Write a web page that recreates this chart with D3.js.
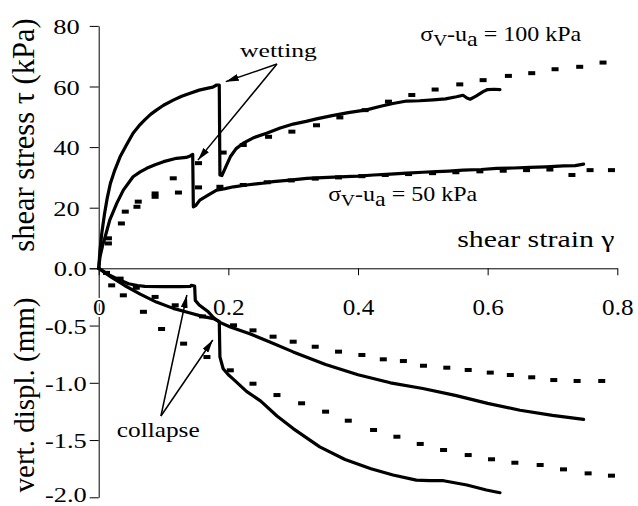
<!DOCTYPE html>
<html>
<head>
<meta charset="utf-8">
<script src="https://cdn.jsdelivr.net/npm/d3@7"></script>
<style>
  html, body { margin: 0; padding: 0; background: #fff; }
  svg { display: block; }
  text { font-family: "Liberation Serif", "Times New Roman", serif; fill: #000; }
</style>
</head>
<body>
<script>
// ---- Measured shear stress, sigma_v - u_a = 100 kPa (wetted at peak) ----
const strainTau100 = [0, 0.002, 0.005, 0.009, 0.013, 0.018, 0.025, 0.033, 0.043, 0.053, 0.062, 0.071, 0.08, 0.089, 0.1, 0.115, 0.128, 0.141, 0.155, 0.167, 0.176, 0.182, 0.186,
  0.187, 0.19, 0.195, 0.203, 0.212, 0.223, 0.24, 0.259, 0.28, 0.3, 0.32, 0.336, 0.36, 0.385, 0.413, 0.435, 0.454, 0.475, 0.495, 0.516, 0.535, 0.552, 0.562, 0.568, 0.573, 0.582, 0.593, 0.6, 0.61, 0.619];
const tau100 = [0, 6, 12, 18, 23, 28, 32.5, 36.8, 40.8, 44.6, 47, 49, 50.8, 52.2, 53.8, 55.5, 56.8, 57.8, 58.8, 59.4, 59.8, 60.5, 60.5,
  30.8, 30.6, 33, 36.8, 39.5, 41.3, 43.2, 44.6, 46.3, 47.6, 48.5, 49.3, 50.4, 51.4, 52.3, 53.5, 54.4, 55.2, 55.3, 55.6, 55.9, 56.6, 57.1, 56.2, 55.8, 56.8, 58.3, 59, 59.1, 59];

// ---- Measured shear stress, sigma_v - u_a = 50 kPa ----
const strainTau50 = [0, 0.002, 0.006, 0.01, 0.017, 0.028, 0.038, 0.053, 0.064, 0.074, 0.087, 0.1, 0.12, 0.135, 0.141, 0.145,
  0.146, 0.15, 0.156, 0.17, 0.182, 0.195, 0.208, 0.228, 0.25, 0.269, 0.295, 0.321, 0.345, 0.372, 0.4, 0.424, 0.45, 0.475, 0.5, 0.521, 0.54, 0.562, 0.59, 0.614, 0.64, 0.665, 0.69, 0.717, 0.735, 0.748];
const tau50 = [0, 3.8, 7.5, 10.4, 15.9, 21.5, 25.8, 30.2, 31.8, 33, 34.2, 35.2, 36.3, 36.6, 37.1, 37.6,
  20.3, 20.8, 22.5, 24.3, 25.8, 26.3, 26.9, 27.5, 28, 28.6, 29.1, 29.7, 29.9, 30.2, 30.4, 30.8, 31.1, 31.4, 31.7, 31.9, 32.1, 32.4, 32.6, 33, 33.1, 33.3, 33.5, 33.8, 33.9, 34.4];

// ---- Predicted shear stress (drawn as dash markers) ----
const predStrainTau100 = [0.015, 0.041, 0.061, 0.087, 0.115, 0.154, 0.192, 0.223, 0.262, 0.298, 0.336, 0.372, 0.411, 0.447, 0.483, 0.519, 0.557, 0.593, 0.632, 0.668, 0.704, 0.742, 0.778];
const predTau100 = [9.9, 18.7, 22, 24.7, 29.7, 34.7, 38.2, 40.7, 43.4, 45.1, 47.2, 49.8, 52.2, 55, 57.2, 59, 60.7, 62.1, 63.5, 64.4, 65.7, 66.5, 67.9];
const predStrainTau50 = [0.015, 0.035, 0.059, 0.087, 0.123, 0.154, 0.187, 0.223, 0.26, 0.297, 0.334, 0.37, 0.406, 0.442, 0.478, 0.515, 0.551, 0.588, 0.624, 0.66, 0.696, 0.73, 0.758, 0.791];
const predTau50 = [8.2, 14.8, 20.3, 23.6, 25, 26.7, 26.9, 27.5, 28.4, 29, 29.6, 30, 30.4, 30.8, 31.1, 31.4, 31.7, 32, 32.2, 32.4, 32.6, 30.8, 32.4, 32.4];

// ---- Measured vertical displacement (mm) ----
const strainDv50 = [0, 0.01, 0.017, 0.028, 0.046, 0.06, 0.071, 0.1, 0.125, 0.141, 0.143, 0.148, 0.149, 0.155, 0.169, 0.177, 0.186, 0.203, 0.233, 0.264, 0.3, 0.35, 0.4, 0.45, 0.5, 0.55, 0.6, 0.65, 0.7, 0.748];
const dv50 = [0, -0.035, -0.06, -0.09, -0.135, -0.15, -0.158, -0.16, -0.16, -0.158, -0.149, -0.155, -0.28, -0.32, -0.38, -0.43, -0.47, -0.513, -0.571, -0.644, -0.73, -0.84, -0.93, -1.0, -1.05, -1.11, -1.18, -1.24, -1.285, -1.32];
const strainDv100 = [0, 0.01, 0.02, 0.04, 0.064, 0.089, 0.115, 0.141, 0.16, 0.177, 0.186, 0.187, 0.192, 0.2, 0.208, 0.228, 0.25, 0.275, 0.3, 0.341, 0.38, 0.42, 0.454, 0.49, 0.51, 0.532, 0.568, 0.598, 0.619];
const dv100 = [0, -0.04, -0.08, -0.15, -0.225, -0.295, -0.35, -0.39, -0.42, -0.44, -0.465, -0.774, -0.877, -0.93, -0.97, -1.075, -1.16, -1.29, -1.4, -1.56, -1.67, -1.75, -1.805, -1.85, -1.855, -1.855, -1.893, -1.936, -1.96];

// ---- Predicted vertical displacement (dash markers) ----
const predStrainDv50 = [0.012, 0.033, 0.058, 0.087, 0.118, 0.16, 0.208, 0.238, 0.269, 0.3, 0.334, 0.37, 0.406, 0.439, 0.47, 0.501, 0.537, 0.57, 0.604, 0.635, 0.668, 0.702, 0.738, 0.776];
const predDv50 = [-0.04, -0.09, -0.17, -0.25, -0.323, -0.42, -0.498, -0.542, -0.597, -0.641, -0.685, -0.728, -0.757, -0.795, -0.81, -0.851, -0.868, -0.888, -0.911, -0.932, -0.952, -0.976, -0.984, -0.984];
const predStrainDv100 = [0.02, 0.038, 0.069, 0.097, 0.131, 0.167, 0.203, 0.238, 0.275, 0.313, 0.35, 0.385, 0.424, 0.46, 0.496, 0.532, 0.57, 0.606, 0.642, 0.681, 0.717, 0.755, 0.791];
const predDv100 = [-0.149, -0.236, -0.38, -0.53, -0.658, -0.775, -0.891, -1.008, -1.107, -1.179, -1.252, -1.331, -1.412, -1.471, -1.534, -1.587, -1.631, -1.668, -1.698, -1.718, -1.756, -1.791, -1.811];

// ---- Axis ticks ----
const strainTicks = [0, 0.2, 0.4, 0.6, 0.8];
const tauTicks = [0, 20, 40, 60, 80];
const dvTicks = [0, -0.5, -1.0, -1.5, -2.0];

// ---- Chart ----
const W = 638, H = 506;
const svg = d3.select("body").append("svg").attr("width", W).attr("height", H);

const x = d3.scaleLinear().domain([0, 0.8]).range([98.7, 617.3]);
const yTau = d3.scaleLinear().domain([0, 80]).range([268.3, 25.9]);
const yDv = d3.scaleLinear().domain([-2, 0]).range([497.3, 268.3]);

const zip = (xs, ys) => xs.map((v, i) => [v, ys[i]]);

// arrowhead for the annotation pointers
svg.append("defs").append("marker")
  .attr("id", "arrowhead").attr("viewBox", "0 0 13 7")
  .attr("refX", 13).attr("refY", 3.5)
  .attr("markerWidth", 13).attr("markerHeight", 7)
  .attr("markerUnits", "userSpaceOnUse").attr("orient", "auto")
  .append("path").attr("d", "M0,0L13,3.5L0,7Z").attr("fill", "#000");

// horizontally widened text helper
function label(g, px, py, size, sx) {
  return g.append("text")
    .attr("transform", `translate(${px},${py}) scale(${sx},1)`)
    .style("font-size", size + "px");
}

// --- shear-stress axis (upper) ---
const axTau = svg.append("g").attr("transform", `translate(${x(0)},0)`)
  .call(d3.axisLeft(yTau).tickValues(tauTicks).tickSize(9).tickSizeOuter(0));
axTau.selectAll("text").remove();
axTau.selectAll(".tick").each(function (d) {
  if (d === 0) return;
  label(d3.select(this), -19, 7.5, 22, 1.2).attr("text-anchor", "end").text(d3.format("d")(d));
});

// --- vertical-displacement axis (lower) ---
const axDv = svg.append("g").attr("transform", `translate(${x(0)},0)`)
  .call(d3.axisLeft(yDv).tickValues(dvTicks).tickSize(9).tickSizeOuter(0));
axDv.selectAll("text").remove();
axDv.selectAll(".tick").each(function (d) {
  // keep the lowest label inside the drawing area
  const off = Math.min(7.5, H - 5 - yDv(d));
  label(d3.select(this), -12, off, 22, 1.2).attr("text-anchor", "end").text(d.toFixed(1));
});

// --- shear-strain axis along zero ---
const axX = svg.append("g").attr("transform", `translate(0,${yTau(0)})`)
  .call(d3.axisBottom(x).tickValues(strainTicks).tickSize(7).tickSizeOuter(0));
axX.selectAll("text").remove();
axX.selectAll(".tick").each(function (d) {
  label(d3.select(this), 0, 47, 24, 1.05)
    .attr("text-anchor", "middle")
    .attr("stroke", "#fff").attr("stroke-width", 4).attr("paint-order", "stroke")
    .text(d === 0 ? "0" : d.toFixed(1));
});

svg.selectAll(".domain, .tick line").attr("stroke", "#000").attr("stroke-width", 1);

// --- measured curves ---
const lineTau = d3.line().x(d => x(d[0])).y(d => yTau(d[1]));
const lineDv = d3.line().x(d => x(d[0])).y(d => yDv(d[1]));

const curves = svg.append("g").attr("fill", "none").attr("stroke", "#000")
  .attr("stroke-width", 3.2).attr("stroke-linejoin", "round").attr("stroke-linecap", "round");
curves.append("path").attr("d", lineTau(zip(strainTau100, tau100)));
curves.append("path").attr("d", lineTau(zip(strainTau50, tau50)));
curves.append("path").attr("d", lineDv(zip(strainDv100, dv100)));
curves.append("path").attr("d", lineDv(zip(strainDv50, dv50)));

// --- predicted curves: dash markers ---
function dashes(pts, yScale) {
  svg.append("g").selectAll("rect").data(pts).join("rect")
    .attr("x", d => x(d[0]) - 3.5).attr("y", d => yScale(d[1]) - 2)
    .attr("width", 7).attr("height", 4).attr("fill", "#000");
}
dashes(zip(predStrainTau100, predTau100), yTau);
dashes(zip(predStrainTau50, predTau50), yTau);
dashes(zip(predStrainDv100, predDv100), yDv);
dashes(zip(predStrainDv50, predDv50), yDv);

// --- annotations ---
const ann = svg.append("g");
function arrow(from, to) {
  ann.append("line")
    .attr("x1", from[0]).attr("y1", from[1]).attr("x2", to[0]).attr("y2", to[1])
    .attr("stroke", "#000").attr("stroke-width", 1.5).attr("marker-end", "url(#arrowhead)");
}
// wetting points (upper panel, data units)
const wetTail = [x(0.275), yTau(67.4)];
arrow(wetTail, [x(0.196), yTau(61.6)]);
arrow(wetTail, [x(0.153), yTau(35.7)]);
label(ann, x(0.218), yTau(69.7), 19, 1.35).text("wetting");

// collapse points (lower panel, data units)
const colTail = [x(0.096), yDv(-1.29)];
arrow(colTail, [x(0.136), yDv(-0.233)]);
arrow(colTail, [x(0.176), yDv(-0.626)]);
label(ann, x(0.028), yDv(-1.47), 22, 1.15).text("collapse");

// stress-level labels
function stressLabel(px, py, value) {
  const t = label(ann, px, py, 20, 1.2);
  t.append("tspan").text("σ");
  t.append("tspan").attr("dy", 5).style("font-size", "16px").text("V");
  t.append("tspan").attr("dy", -5).text("-u");
  t.append("tspan").attr("dy", 5).text("a");
  t.append("tspan").attr("dy", -5).text(" = " + value + " kPa");
}
stressLabel(x(0.496), yTau(75), 100);
stressLabel(x(0.354), yTau(22.2), 50);

// axis titles
label(ann, x(0.553), yTau(7), 23.5, 1.27).text("shear strain γ");

ann.append("text")
  .attr("transform", `translate(34,135) rotate(-90)`)
  .attr("text-anchor", "middle").style("font-size", "30.5px")
  .text("shear stress  τ  (kPa)");
ann.append("text")
  .attr("transform", `translate(34,395) rotate(-90)`)
  .attr("text-anchor", "middle").style("font-size", "29px")
  .text("vert. displ. (mm)");
</script>
</body>
</html>
